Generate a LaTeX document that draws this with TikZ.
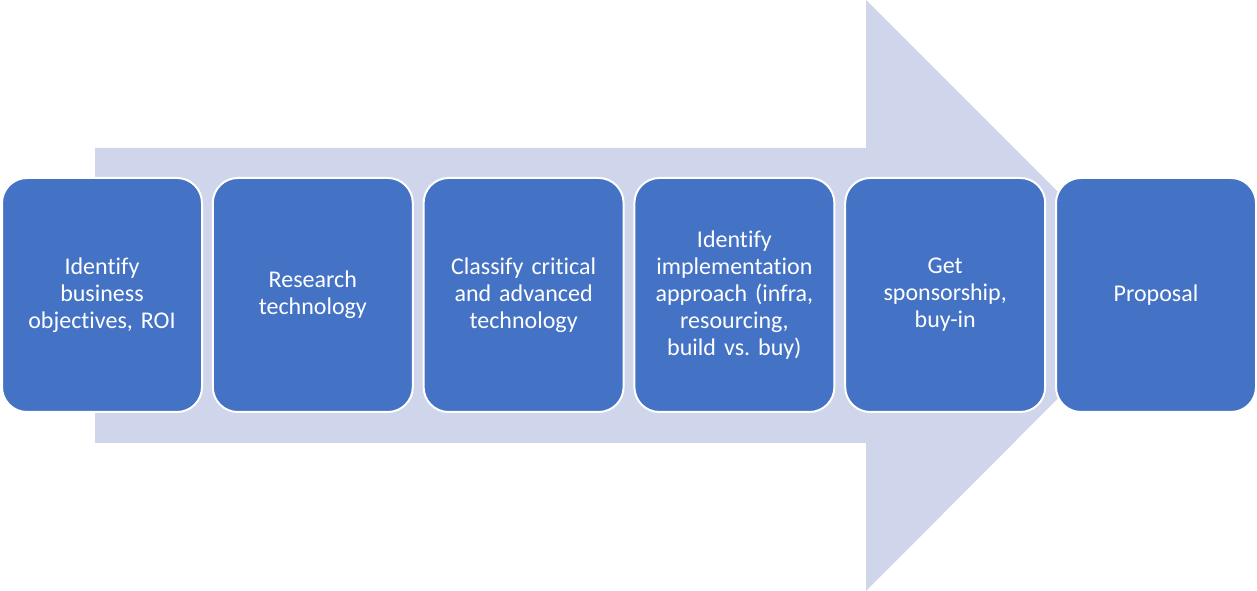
\documentclass[tikz,border=0pt]{standalone}
\usepackage{fontspec}
\setmainfont{Carlito}[Ligatures=NoCommon]
\usetikzlibrary{positioning}
\definecolor{stepblue}{HTML}{4472C4}
\definecolor{arrowlav}{HTML}{CFD5EA}
\tikzset{
  stepbox/.style={rectangle, rounded corners=18.75pt, fill=stepblue, draw=white, line width=1.5pt,
    minimum width=150pt, minimum height=175.5pt, text width=140pt, align=center,
    text=white, font=\fontsize{18}{20.25}\selectfont\frenchspacing, inner sep=0pt}
}
\begin{document}
\begin{tikzpicture}[x=0.75pt, y=-0.75pt, node distance=6.6pt]
    \useasboundingbox (0,0) rectangle (1257,591);
    % Big background arrow
    \fill[arrowlav] (95,148) -- (866,148) -- (866,0) -- (1161,295) -- (866,591) -- (866,443) -- (95,443) -- cycle;

    % Steps
    \node[stepbox] (objectives) at (102,295) {Identify\\ business\\ objectives, ROI};
    \node[stepbox, right=of objectives] (research) {Research\\ technology};
    \node[stepbox, right=of research] (classify) {Classify critical\\ and advanced\\ technology};
    \node[stepbox, right=of classify] (approach) {Identify\\ implementation\\ approach (infra,\\ resourcing,\\ build vs. buy)};
    \node[stepbox, right=of approach] (sponsor) {Get\\ sponsorship,\\ buy-in};
    \node[stepbox, right=of sponsor] (proposal) {Proposal};
\end{tikzpicture}
\end{document}
